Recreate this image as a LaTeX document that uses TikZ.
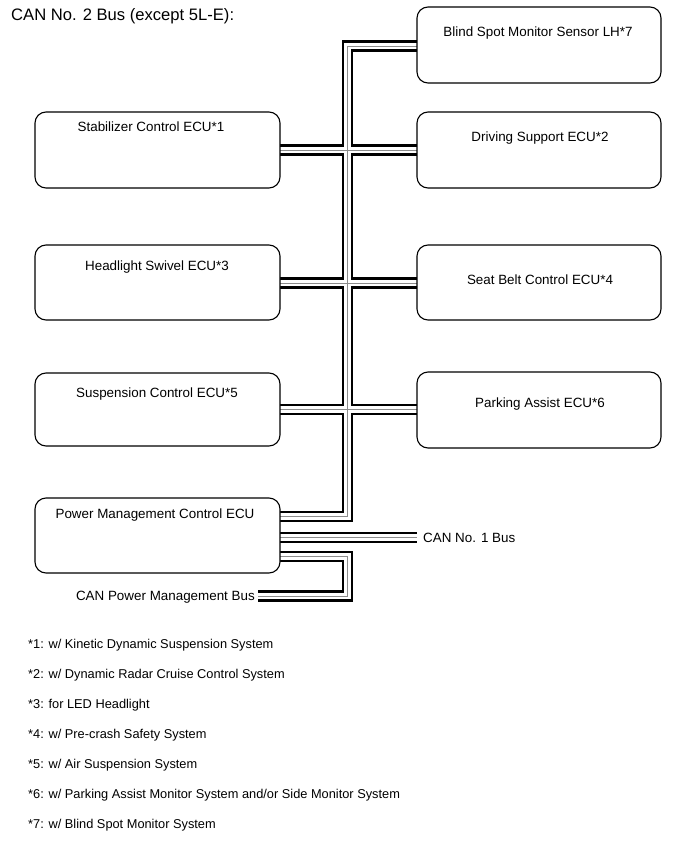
\documentclass[tikz,border=0pt]{standalone}
\usepackage{fontspec}
\setmainfont{Liberation Sans}
\begin{document}
\begin{tikzpicture}[x=1pt,y=-1pt,
  ecu/.style={draw=black,line width=1.1pt,rounded corners=11pt},
  lbl/.style={font=\fontsize{13.4}{15}\selectfont,inner sep=0pt},
  note/.style={font=\fontsize{12.8}{15}\selectfont,anchor=west,inner sep=0pt},
  busblack/.style={draw=black,line width=11.5pt,line join=miter},
  buswhite/.style={draw=white,line width=6.5pt,line join=miter},
  busgray/.style={draw=black!45,line width=0.9pt,line join=miter}]
\useasboundingbox (0,0) rectangle (690,853);
\node[anchor=west,inner sep=0pt,font=\fontsize{16.6}{19}\selectfont] (title) at (11,16) {CAN No. 2 Bus (except 5L-E):};

% bus paths
\def\buspaths#1{
  \draw[#1] (417,46) -- (347.5,46) -- (347.5,516.5) -- (280,516.5);
  \draw[#1] (280,150) -- (417,150);
  \draw[#1] (280,283) -- (417,283);
  \draw[#1] (280,409.5) -- (417,409.5);
  \draw[#1] (280,537.5) -- (417,537.5);
  \draw[#1] (280,556.5) -- (347.5,556.5) -- (347.5,596) -- (258,596);
}
\buspaths{busblack}
\buspaths{buswhite}
\buspaths{busgray}

% boxes
\draw[ecu,fill=white] (417,7) rectangle (661,83);
\node[lbl] (bsm) at (538,33) {Blind Spot Monitor Sensor LH*7};
\draw[ecu,fill=white] (35,112) rectangle (280,188);
\node[lbl] (stab) at (151,127) {Stabilizer Control ECU*1};
\draw[ecu,fill=white] (417,112) rectangle (661,188);
\node[lbl] (drive) at (540,138) {Driving Support ECU*2};
\draw[ecu,fill=white] (35,245) rectangle (280,320);
\node[lbl] (head) at (157,267) {Headlight Swivel ECU*3};
\draw[ecu,fill=white] (417,245) rectangle (661,320);
\node[lbl] (seat) at (540,280) {Seat Belt Control ECU*4};
\draw[ecu,fill=white] (35,373) rectangle (280,446);
\node[lbl] (susp) at (157,394) {Suspension Control ECU*5};
\draw[ecu,fill=white] (417,372) rectangle (661,448);
\node[lbl] (park) at (540,404) {Parking Assist ECU*6};
\draw[ecu,fill=white] (35,498) rectangle (280,573);
\node[lbl] (pm) at (155,515) {Power Management Control ECU};

\node[lbl,anchor=west] (can1) at (423,538) {CAN No. 1 Bus};
\node[lbl,anchor=east] (canpm) at (255,597) {CAN Power Management Bus};

% notes
\node[note] (n1) at (28,645) {*1: w/ Kinetic Dynamic Suspension System};
\node[note] (n2) at (28,675) {*2: w/ Dynamic Radar Cruise Control System};
\node[note] (n3) at (28,705) {*3: for LED Headlight};
\node[note] (n4) at (28,735) {*4: w/ Pre-crash Safety System};
\node[note] (n5) at (28,765) {*5: w/ Air Suspension System};
\node[note] (n6) at (28,795) {*6: w/ Parking Assist Monitor System and/or Side Monitor System};
\node[note] (n7) at (28,825) {*7: w/ Blind Spot Monitor System};
\end{tikzpicture}
\end{document}
